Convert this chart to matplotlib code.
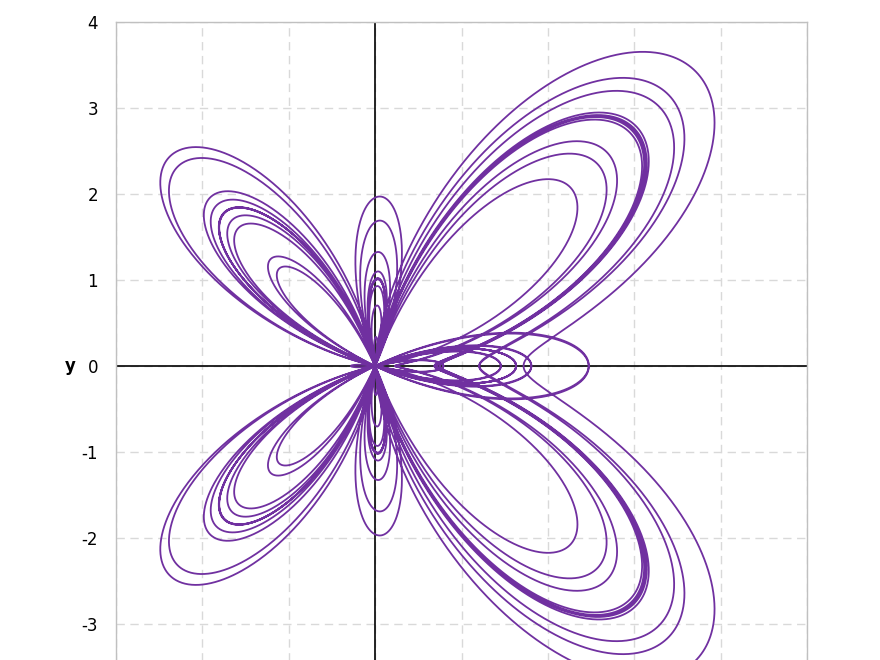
import numpy as np
import matplotlib
matplotlib.use("Agg")
import matplotlib.pyplot as plt

# butterfly curve (Temple Fay), rotated so the body lies on the x axis
t_start = 0.0
t_stop = 24 * np.pi
n_points = 30000

x_limits = (-3, 5)
y_limits = (-4, 4)
x_ticks = [-3, -2, -1, 0, 1, 2, 3, 4, 5]
y_ticks = [-3, -2, -1, 0, 1, 2, 3, 4]
y_tick_labels = ["-3", "-2", "-1", "0", "1", "2", "3", "4"]

t = np.linspace(t_start, t_stop, n_points)
r = np.exp(np.cos(t)) - 2 * np.cos(4 * t) + np.sin(t / 12) ** 5
xs = r * np.cos(t)
ys = r * np.sin(t)

fig = plt.figure(figsize=(8.8, 6.6), dpi=100)
# plot area runs past the bottom of the picture, like the reference
ax = fig.add_axes([116 / 880, 1 - 22 / 660 - 688 / 660, 691 / 880, 688 / 660])

ax.plot(xs, ys, color="#7030a0", lw=1.3, zorder=3)

ax.axhline(0, color="black", lw=1.2, zorder=2)
ax.axvline(0, color="black", lw=1.2, zorder=2)

ax.set_xlim(*x_limits)
ax.set_ylim(*y_limits)
ax.set_xticks(x_ticks)
ax.set_yticks(y_ticks)
ax.set_yticklabels(y_tick_labels)
ax.set_xticklabels([])
ax.grid(True, color="#d9d9d9", lw=1, linestyle=(0, (6, 4)), zorder=1)
ax.set_axisbelow(True)

for s in ax.spines.values():
    s.set_color("#c0c0c0")
    s.set_linewidth(1)

ax.tick_params(length=0, labelsize=12, pad=13, colors="black")
ax.set_ylabel("y", rotation=0, fontsize=12, fontweight="bold", labelpad=8, va="center")

fig.savefig("out.png", dpi=100)
